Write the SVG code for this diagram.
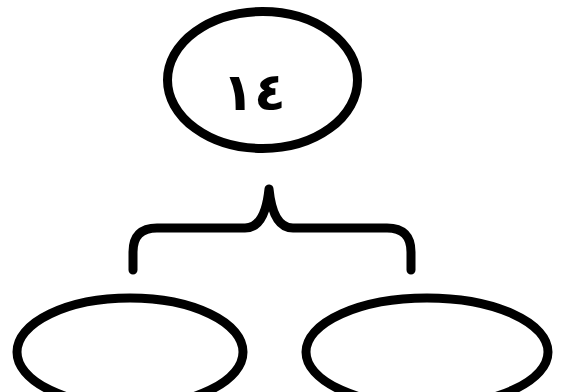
<svg xmlns="http://www.w3.org/2000/svg" width="565" height="392" viewBox="0 0 565 392">
<style>
.node{fill:#fff;stroke:#000;stroke-width:9}
.conn{fill:none;stroke:#000;stroke-width:9;stroke-linecap:round;stroke-linejoin:round}
.lbl{font-family:"DejaVu Sans","Noto Sans",sans-serif;font-weight:bold;font-size:52px;fill:#000;text-anchor:middle}
</style>
<rect width="565" height="392" fill="#fff"/>
<g id="connectors">
<path class="conn" d="M133,270 L133,252 Q133,228 157,228 L245,228 Q265,228 269,189 Q273,228 293,228 L387,228 Q411,228 411,252 L411,270"/>
</g>
<g id="node-top">
<ellipse class="node" cx="262.5" cy="80" rx="95" ry="68.5"/>
<text class="lbl" x="254" y="110">١٤</text>
</g>
<g id="node-left">
<ellipse class="node" cx="130" cy="352" rx="113" ry="54"/>
</g>
<g id="node-right">
<ellipse class="node" cx="427" cy="352" rx="121" ry="54"/>
</g>
</svg>
